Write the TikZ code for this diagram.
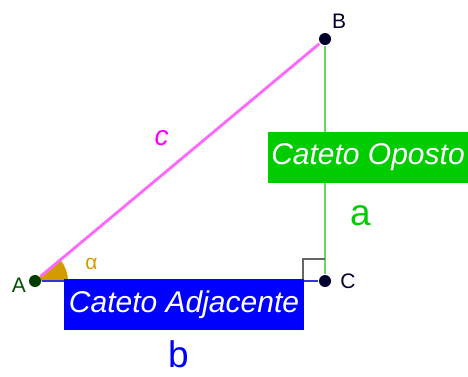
\documentclass[tikz,border=0pt]{standalone}
\usepackage{fontspec}
\setmainfont{Liberation Sans}
\definecolor{ptgreen}{RGB}{0,60,0}
\definecolor{lblgreen}{RGB}{0,80,0}
\definecolor{navy}{RGB}{0,0,45}
\definecolor{linemag}{RGB}{255,102,255}
\definecolor{txtmag}{RGB}{255,0,255}
\definecolor{linegreen}{RGB}{102,214,102}
\definecolor{boxgreen}{RGB}{0,204,0}
\definecolor{lineblue}{RGB}{51,51,220}
\definecolor{boxblue}{RGB}{0,0,255}
\definecolor{gold}{RGB}{210,155,0}
\definecolor{sqgray}{RGB}{102,102,102}
\begin{document}
\begin{tikzpicture}[x=1pt, y=-1pt, line width=2.8pt,
    pt/.style = {circle, inner sep=0pt, minimum size=12pt},
    cateto/.style = {text=white, inner sep=0pt, minimum height=51pt, font=\fontsize{30}{31}\selectfont\itshape},
    lbl/.style = {inner sep=0pt, font=\fontsize{21}{23}\selectfont},
    side/.style = {inner sep=0pt, font=\fontsize{37}{40}\selectfont}]
    \useasboundingbox (0,0) rectangle (468,376);
    \coordinate (a0) at (35,281);
    \fill[gold] (a0) -- ++(33,0) arc[start angle=0, end angle=-39.8, radius=33] -- cycle;
    \node[pt, fill=ptgreen] (A) at (a0) {};
    \node[pt, fill=navy] (B) at (325,39) {};
    \node[pt, fill=navy] (C) at (325,281) {};
    \draw[lineblue] (A) -- (C);
    \draw[linemag] (A) -- (B);
    \draw[linegreen] (B) -- (C);
    \draw[sqgray, line width=2.4pt] (C.center) ++(-22,0) -- ++(0,-22) -- ++(22,0);
    \node[cateto, fill=boxblue, minimum width=240pt] (adj) at (184,304.5) {Cateto Adjacente};
    \node[cateto, fill=boxgreen, minimum width=200pt] (opo) at (368,157.5) {Cateto Oposto};
    \node[side, text=boxgreen] (sa) at (360.5,215.5) {a};
    \node[side, text=boxblue] (sb) at (178.5,354) {b};
    \node[inner sep=0pt, text=txtmag, font=\fontsize{28}{30}\selectfont\itshape] (sc) at (161.5,138) {c};
    \node[inner sep=0pt, text=gold, font=\fontsize{21}{22}\selectfont] (alpha) at (91.5,263.5) {α};
    \node[lbl, text=lblgreen] (lA) at (19,285.5) {A};
    \node[lbl, text=navy] (lB) at (339,21) {B};
    \node[lbl, text=navy] (lC) at (348,281) {C};
\end{tikzpicture}
\end{document}
